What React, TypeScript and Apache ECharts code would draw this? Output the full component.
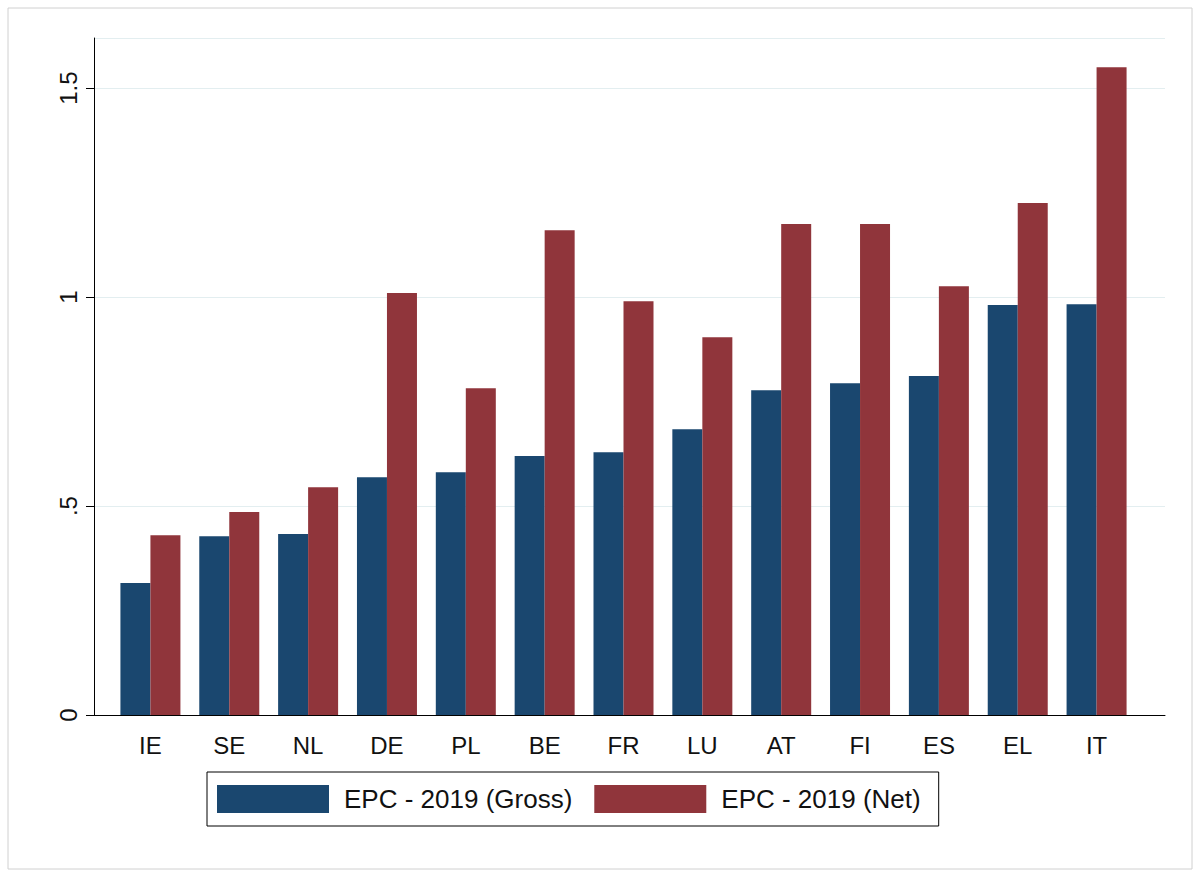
import React, { useEffect, useRef } from 'react';
import * as echarts from 'echarts';

const countries = ['IE', 'SE', 'NL', 'DE', 'PL', 'BE', 'FR', 'LU', 'AT', 'FI', 'ES', 'EL', 'IT'];
const gross = [0.316, 0.428, 0.433, 0.569, 0.581, 0.62, 0.629, 0.684, 0.777, 0.794, 0.811, 0.981, 0.983];
const net = [0.43, 0.486, 0.545, 1.01, 0.782, 1.16, 0.99, 0.904, 1.175, 1.175, 1.026, 1.225, 1.55];
const yTicks: Record<string, string> = { '0': '0', '0.5': '.5', '1': '1', '1.5': '1.5' };

const App: React.FC = () => {
  const chartRef = useRef<HTMLDivElement>(null);

  useEffect(() => {
    if (!chartRef.current) return;
    const chart = echarts.init(chartRef.current, undefined, { renderer: 'svg' });
    chart.setOption({
      animation: false,
      backgroundColor: '#ffffff',
      textStyle: { fontFamily: 'Arial, Liberation Sans, sans-serif' },
      graphic: [
        {
          type: 'rect',
          shape: { x: 8, y: 8, width: 1184, height: 861 },
          style: { fill: 'none', stroke: '#d0d0d0', lineWidth: 1 },
        },
      ],
      grid: [
        { left: 94, right: 35, top: 38, bottom: 162 },
        { left: 111, right: 64, top: 38, bottom: 162 },
      ],
      legend: {
        left: 207,
        top: 772,
        orient: 'horizontal',
        borderColor: '#000',
        borderWidth: 1,
        padding: [13, 18, 13, 10],
        itemWidth: 112,
        itemHeight: 28,
        itemGap: 22,
        icon: 'rect',
        textStyle: { fontSize: 26, color: '#111', padding: [0, 0, 0, 10] },
        data: ['EPC - 2019 (Gross)', 'EPC - 2019 (Net)'],
      },
      xAxis: [
        {
          type: 'category',
          gridIndex: 0,
          data: [''],
          axisLine: { lineStyle: { color: '#000' } },
          axisTick: { show: false },
          axisLabel: { show: false },
        },
        {
          type: 'category',
          gridIndex: 1,
          data: countries,
          axisLine: { show: false },
          axisTick: { show: false },
          axisLabel: { fontSize: 24, color: '#111', margin: 18 },
        },
      ],
      yAxis: [
        {
          type: 'value',
          gridIndex: 0,
          min: 0,
          max: 1.62,
          interval: 0.5,
          axisLine: { show: true, lineStyle: { color: '#000' } },
          axisTick: { show: true, length: 8, lineStyle: { color: '#000' } },
          axisLabel: {
            fontSize: 24,
            color: '#111',
            rotate: 90,
            margin: 14,
            showMaxLabel: false,
            formatter: (v: number) => yTicks[String(v)] ?? '',
          },
          splitLine: { lineStyle: { color: '#e3eef0' } },
        },
        {
          type: 'value',
          gridIndex: 1,
          min: 0,
          max: 1.62,
          show: false,
          splitLine: { show: false },
        },
      ],
      series: [
        {
          name: 'EPC - 2019 (Gross)',
          type: 'bar',
          xAxisIndex: 1,
          yAxisIndex: 1,
          data: gross,
          barWidth: 30,
          barGap: '0%',
          itemStyle: { color: '#1a476f' },
        },
        {
          name: 'EPC - 2019 (Net)',
          type: 'bar',
          xAxisIndex: 1,
          yAxisIndex: 1,
          data: net,
          barWidth: 30,
          itemStyle: { color: '#90353b' },
        },
      ],
    });
    return () => chart.dispose();
  }, []);

  return (
    <div
      ref={chartRef}
      style={{ position: 'fixed', left: 0, top: 0, width: '1200px', height: '877px' }}
    />
  );
};

export default App;
